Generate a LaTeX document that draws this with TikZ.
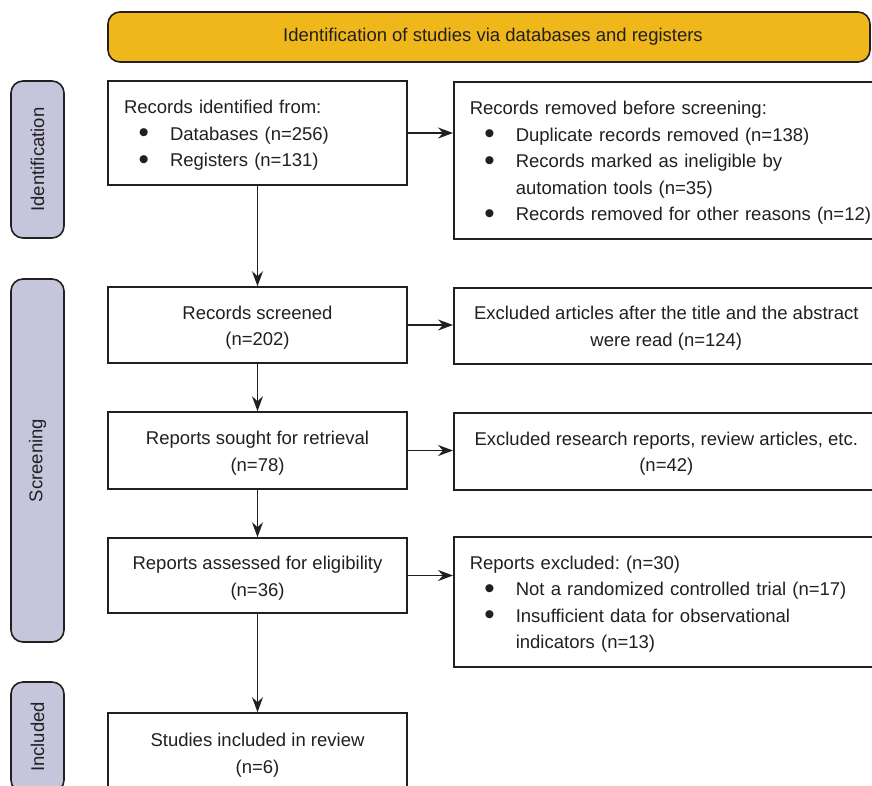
\documentclass[tikz,border=0pt]{standalone}
\usepackage{fontspec}
\setmainfont{Liberation Sans}
\usetikzlibrary{arrows.meta,calc}
\definecolor{ink}{HTML}{231F20}
\definecolor{bandyellow}{HTML}{F0B71B}
\definecolor{lav}{HTML}{C5C5DC}
\newcommand\bitem[1]{\par\hangindent=46pt\hangafter=1\noindent\makebox[46pt][l]{\hspace{14.5pt}\smash{\raisebox{-2.6pt}{\scalebox{1.6}{\textbullet}}}}#1\par}
\newcommand\topstrut{\rule{0pt}{18.5pt}}
\frenchspacing
\begin{document}
\begin{tikzpicture}[x=1pt,y=-1pt,
  every node/.style={text=ink,font=\fontsize{18.5}{26.5}\selectfont},
  box/.style={draw=ink,line width=1.6pt,fill=white,rectangle,inner ysep=0pt,inner xsep=0pt,align=center},
  listbox/.style={draw=ink,line width=1.6pt,fill=white,rectangle,inner ysep=0pt,inner xsep=16pt,align=left},
  side/.style={draw=ink,line width=1.6pt,fill=lav,rounded corners=12pt,rotate=90,minimum height=53pt,inner sep=0pt},
  arr/.style={draw=ink,line width=1.6pt,-{Stealth[length=15pt,width=11pt,inset=5pt]}}
]
\useasboundingbox (0,0) rectangle (872,785);

% banner
\node[draw=ink,line width=1.6pt,fill=bandyellow,rounded corners=12pt,minimum width=762pt,minimum height=50pt,inner sep=0pt]
  (banner) at (489,37) {\hspace{8pt}Identification of studies via databases and registers};

% side labels
\node[side,minimum width=157pt] (sideid) at (37.5,159.5) {Identification};
\node[side,minimum width=363pt] (sidescr) at (37.5,460.5) {Screening};
\node[side,minimum width=110pt] (sideinc) at (37.5,737) {Included};

% left column
\node[listbox,text width=267pt,minimum height=104pt] (ident) at (257.5,133) {%
\topstrut Records identified from:
\bitem{Databases (n=256)}
\bitem{Registers (n=131)}};
\node[box,minimum width=299pt,minimum height=76pt] (screened) at (257.5,325) {\topstrut Records screened\\(n=202)};
\node[box,minimum width=299pt,minimum height=77pt] (sought) at (257.5,450.5) {\topstrut Reports sought for retrieval\\(n=78)};
\node[box,minimum width=299pt,minimum height=75pt] (assessed) at (257.5,575.5) {\topstrut Reports assessed for eligibility\\(n=36)};
\node[box,minimum width=299pt,minimum height=79pt] (studies) at (257.5,752.5) {\topstrut Studies included in review\\(n=6)};

% right column
\node[listbox,text width=405pt,minimum height=157pt,anchor=north west] (removed) at (453,81) {%
\topstrut Records removed before screening:
\bitem{Duplicate records removed (n=138)}
\bitem{Records marked as ineligible by\newline automation tools (n=35)}
\bitem{Records removed for other reasons (n=12)}};
\node[box,minimum width=425pt,minimum height=76pt,anchor=north west] (excl1) at (453,287) {\topstrut Excluded articles after the title and the abstract\\were read (n=124)};
\node[box,minimum width=425pt,minimum height=77pt,anchor=north west] (excl2) at (453,412) {\topstrut Excluded research reports, review articles, etc.\\(n=42)};
\node[listbox,text width=405pt,minimum height=130pt,anchor=north west] (excl3) at (453,536) {%
\topstrut Reports excluded: (n=30)
\bitem{Not a randomized controlled trial (n=17)}
\bitem{Insufficient data for observational\newline indicators (n=13)}};

% connectors
\draw[arr] (ident.east) -- (ident.east -| removed.west);
\draw[arr] (screened.east) -- (screened.east -| excl1.west);
\draw[arr] (sought.east) -- (sought.east -| excl2.west);
\draw[arr] (assessed.east) -- (assessed.east -| excl3.west);
\draw[arr] (ident.south) -- (screened.north);
\draw[arr] (screened.south) -- (sought.north);
\draw[arr] (sought.south) -- (assessed.north);
\draw[arr] (assessed.south) -- (studies.north);
\end{tikzpicture}
\end{document}
